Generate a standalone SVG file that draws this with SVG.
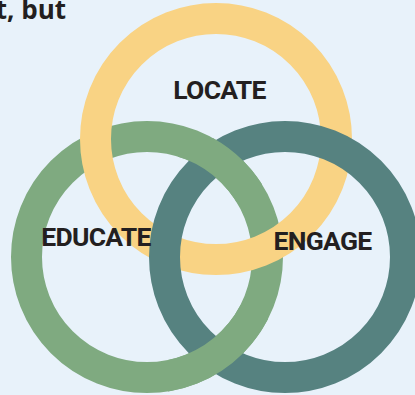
<svg xmlns="http://www.w3.org/2000/svg" width="415" height="395" viewBox="0 0 415 395">
<style>
.ring{fill:none;stroke-width:31}
.y{stroke:#F9D384}
.g{stroke:#7FAA80}
.t{stroke:#568280}
.lbl{font-family:Roboto,"Liberation Sans",sans-serif;font-weight:700;font-size:26.5px;fill:#231F20;letter-spacing:-0.7px}
.head{font-family:"Open Sans","Liberation Sans",sans-serif;font-weight:700;font-size:26px;fill:#231F20}
</style>
<defs>
<clipPath id="gx"><rect x="178" y="138" width="84" height="64"/><rect x="168" y="305" width="100" height="90"/></clipPath>
</defs>
<rect width="415" height="395" fill="#E8F2FA"/>
<text class="head" x="66" y="19" text-anchor="end">t, but</text>
<g id="rings">
<g id="educate"><circle class="ring g" cx="147" cy="257" r="120.5"/></g>
<g id="locate"><circle class="ring y" cx="216" cy="139" r="120.5"/></g>
<g id="engage"><circle class="ring t" cx="285" cy="257" r="120.5"/></g>
<circle class="ring g" cx="147" cy="257" r="120.5" clip-path="url(#gx)"/>
</g>
<g id="labels">
<text class="lbl" x="219.5" y="99" text-anchor="middle">LOCATE</text>
<text class="lbl" x="96" y="246" text-anchor="middle">EDUCATE</text>
<text class="lbl" x="322.5" y="250" text-anchor="middle">ENGAGE</text>
</g>
</svg>
